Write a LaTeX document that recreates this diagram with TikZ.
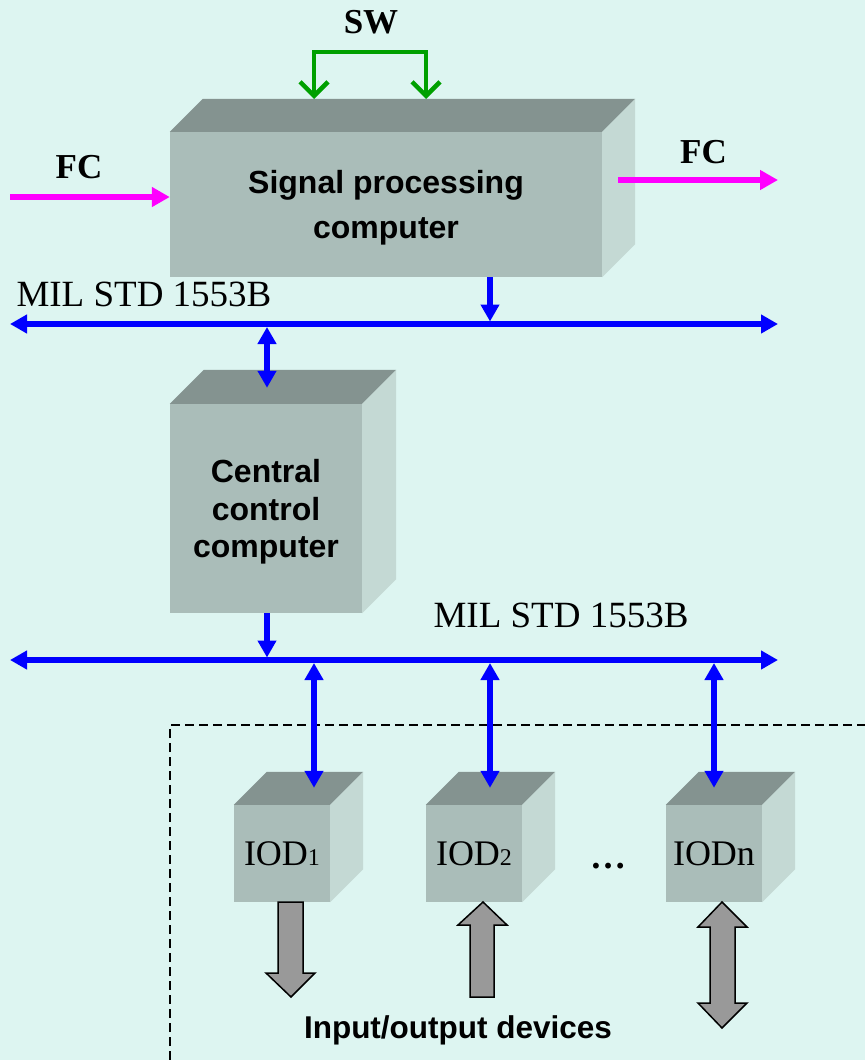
\documentclass[tikz,border=0pt]{standalone}
\usepackage{fontspec}
\setmainfont{Liberation Serif}
\setsansfont{Liberation Sans}
\usetikzlibrary{arrows.meta}
\definecolor{fond}{RGB}{221,245,241}
\definecolor{face}{RGB}{170,189,185}
\definecolor{dessus}{RGB}{132,147,144}
\definecolor{cote}{RGB}{196,217,212}
\definecolor{vert}{RGB}{0,160,0}
\definecolor{rose}{RGB}{255,0,255}
\newcommand{\indice}[1]{{\fontsize{24}{24}\selectfont #1}}
\tikzset{
  front/.style={fill=face, inner sep=0pt, align=center, text depth=0pt},
  boxtext/.style={font=\sffamily\bfseries\fontsize{32}{#1}\selectfont},
  iodtext/.style={font=\fontsize{36}{36}\selectfont},
  label/.style={anchor=base, font=\bfseries\fontsize{35}{35}\selectfont},
  mil/.style={anchor=base west, font=\fontsize{37}{37}\selectfont},
  bus/.style={draw=blue, line width=5.5pt, {Triangle[length=17pt,width=18pt]}-{Triangle[length=17pt,width=18pt]}},
  tap/.style={draw=blue, line width=5.5pt, -{Triangle[length=17pt,width=18pt]}},
  duo/.style={bus, shorten <=3pt},
  fc/.style={draw=rose, line width=5.5pt, -{Triangle[length=18pt,width=19pt]}},
  sw/.style={draw=vert, line width=4.5pt, {Straight Barb[length=14pt,width=28pt]}-{Straight Barb[length=14pt,width=28pt]}},
  ioarrow/.style={fill=black!40, draw=black, line width=1.5pt},
}
\begin{document}
\begin{tikzpicture}[x=1pt,y=-1pt]
\useasboundingbox (0,0) rectangle (865,1060);
\fill[fond] (0,0) rectangle (865,1060);
\draw[line width=1.5pt, dash pattern=on 9pt off 5pt] (170,1060) -- (170,725) -- (865,725);

\node[front, minimum width=432pt, minimum height=145pt, boxtext=45] (spc) at (386,204.5) {Signal processing\\computer};
\node[front, minimum width=192pt, minimum height=209pt, boxtext=37.5] (ccc) at (266,508.5) {Central\\control\\computer};
\foreach \n/\x/\t in {iod1/282/IOD\indice{1}, iod2/474/IOD\indice{2}, iodn/714/IODn}
  \node[front, minimum width=96pt, minimum height=97pt, iodtext] (\n) at (\x,853.5) {\t};
\foreach \n/\dep in {spc/33,ccc/34,iod1/33,iod2/33,iodn/33}{
  \fill[dessus] (\n.north west) -- ++(\dep,-\dep) -- ([shift={(\dep,-\dep)}]\n.north east) -- (\n.north east) -- cycle;
  \fill[cote] (\n.north east) -- ++(\dep,-\dep) -- ([shift={(\dep,-\dep)}]\n.south east) -- (\n.south east) -- cycle;
}

\node[label] (sw) at (371,33) {SW};
\node[label] (fcin) at (79,178) {FC};
\node[label] (fcout) at (703.5,163) {FC};
\node[mil] (mil1) at (13,306) {MIL STD 1553B};
\node[mil] (mil2) at (430,627) {MIL STD 1553B};
\node[anchor=base, font=\bfseries\fontsize{36}{36}\selectfont] (etc) at (608,868) {\ldots};
\node[anchor=base, font=\sffamily\bfseries\fontsize{31.5}{31.5}\selectfont] (devices) at (458,1038) {Input/output devices};

\coordinate (swa) at (314,99);
\coordinate (swb) at (426,99);
\draw[sw] (swa) -- ++(0,-47) -| (swb);
\coordinate (fc1) at (10,197);
\coordinate (fc2) at (618,180);
\coordinate (fc3) at (778,180);
\draw[fc] (fc1) -- (fc1 -| spc.west);
\draw[fc] (fc2) -- (fc3);

\coordinate (bus1w) at (10,324);
\coordinate (bus1e) at (778,324);
\coordinate (bus2w) at (10,660);
\coordinate (bus2e) at (778,660);
\draw[bus] (bus1w) -- (bus1e);
\draw[bus] (bus2w) -- (bus2e);
\coordinate (t1) at (490,324);
\coordinate (t2) at (267,324);
\coordinate (t3) at (267,660);
\draw[tap, shorten >=2.5pt] (spc.south -| t1) -- (t1);
\draw[duo, shorten >=16pt] (t2) -- (t2 |- ccc.north);
\draw[tap, shorten >=2.5pt] (ccc.south -| t3) -- (t3);
\foreach \n/\x in {iod1/314, iod2/490, iodn/714}{
  \coordinate (t\n) at (\x,660);
  \draw[duo, shorten >=17pt] (t\n) -- (t\n |- \n.north);
}

\draw[ioarrow] (278,902) -- (303,902) -- (303,973) -- (315,973) -- (291,997) -- (266,973) -- (278,973) -- cycle;
\draw[ioarrow] (483,902) -- (507,925) -- (494,925) -- (494,997) -- (470,997) -- (470,925) -- (458,925) -- cycle;
\draw[ioarrow] (722,902) -- (747,927) -- (735,927) -- (735,1003) -- (747,1003) -- (722,1028) -- (698,1003) -- (710,1003) -- (710,927) -- (698,927) -- cycle;
\end{tikzpicture}
\end{document}
